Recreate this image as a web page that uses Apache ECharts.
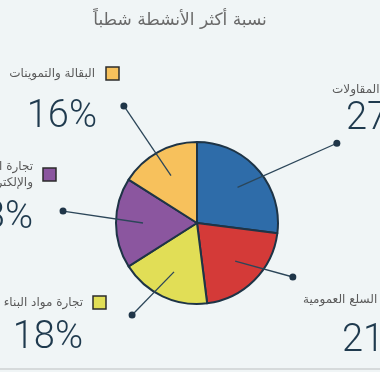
<!DOCTYPE html>
<html>
<head>
<meta charset="utf-8">
<script src="https://cdn.jsdelivr.net/npm/echarts@6/dist/echarts.min.js"></script>
<style>
html,body{margin:0;padding:0;background:#f0f5f6;}
#c{width:380px;height:372px;}
</style>
</head>
<body>
<div id="c"></div>
<script>
// ---- data ----
const titleText = 'نسبة أكثر الأنشطة شطباً';
const categories = ['المقاولات', 'السلع العمومية', 'تجارة مواد البناء', 'تجارة الأجهزة\nوالإلكترونيات', 'البقالة والتموينات'];
const values = [27, 21, 18, 18, 16];
const colors = ['#2e6ca9', '#d43a38', '#e1de56', '#8b569f', '#f7c15c'];

// ---- layout (annotation positions only) ----
const W = 380, H = 372;
const CX = 197, CY = 223, R = 81;
// leader-line end dots: [angle clockwise from 12 o'clock (deg), distance from pie centre]
const dotPolar = [[60.3, 161], [119.4, 110], [215.2, 112.6], [275.1, 134.5], [328, 138]];
// label blocks
const labelPos = [
  {side: 'right', nameX: 332, nameY: 90, pctX: 346, pctY: 119},
  {side: 'right', nameX: 303, nameY: 300, pctX: 342, pctY: 341},
  {side: 'left', sqX: 93, sqY: 296, nameX: 83, nameY: 303, pctX: 83, pctY: 338},
  {side: 'left', sqX: 43, sqY: 168, nameX: 33, nameY: 175, pctX: 33, pctY: 218},
  {side: 'left', sqX: 106, sqY: 67, nameX: 95, nameY: 74, pctX: 97, pctY: 117}
];
const arabicFont = '"DejaVu Sans", sans-serif';
const numFont = 'Roboto, "Open Sans", sans-serif';
const ink = '#1f3a4e';

const chart = echarts.init(document.getElementById('c'), null, {renderer: 'canvas'});

const graphics = [];
graphics.push({
  type: 'text', x: 180, y: 21,
  style: {text: titleText, fill: '#6a6a6a', font: '17px ' + arabicFont, textAlign: 'center', textVerticalAlign: 'middle'}
});
categories.forEach((name, i) => {
  const p = labelPos[i];
  const align = p.side === 'left' ? 'right' : 'left';
  if (p.side === 'left') {
    graphics.push({
      type: 'rect', shape: {x: p.sqX, y: p.sqY, width: 13, height: 13},
      style: {fill: colors[i], stroke: '#2b2b2b', lineWidth: 1.5}
    });
  }
  graphics.push({
    type: 'text', x: p.nameX, y: p.nameY,
    style: {text: name, fill: '#5a5a5a', font: '12px ' + arabicFont, textAlign: align, textVerticalAlign: 'middle', lineHeight: 16}
  });
  graphics.push({
    type: 'text', x: p.pctX, y: p.pctY,
    style: {text: values[i] + '%', fill: ink, font: '300 38px ' + numFont, textAlign: align, textVerticalAlign: 'middle'}
  });
});
graphics.push({type: 'rect', shape: {x: 0, y: 368, width: W, height: 2}, style: {fill: '#d6dadb'}});

const pieData = categories.map((n, i) => ({name: n, value: values[i], itemStyle: {color: colors[i]}}));

chart.setOption({
  backgroundColor: '#f0f5f6',
  animation: false,
  graphic: graphics,
  series: [
    {
      type: 'pie', center: [CX, CY], radius: R, startAngle: 90, clockwise: true,
      z: 2, silent: true,
      itemStyle: {borderColor: '#1e3446', borderWidth: 2},
      label: {show: false}, labelLine: {show: false},
      emphasis: {disabled: true},
      data: pieData
    },
    {
      // transparent carrier pie: its label lines are the leader lines starting inside each slice
      type: 'pie', center: [CX, CY], radius: 54, startAngle: 90, clockwise: true,
      z: 3, silent: true, avoidLabelOverlap: false,
      itemStyle: {color: 'rgba(0,0,0,0)', borderWidth: 0},
      emphasis: {disabled: true},
      label: {
        show: true, position: 'outside', formatter: () => ' ',
        backgroundColor: '#1f3548', width: 7, height: 7, borderRadius: 4, padding: 0,
        fontSize: 7, lineHeight: 7
      },
      labelLine: {show: true, length: 20, length2: 0, lineStyle: {color: '#2c4659', width: 1.3}},
      labelLayout: function (params) {
        const i = params.dataIndex;
        const a = dotPolar[i][0] * Math.PI / 180, d = dotPolar[i][1];
        const x = CX + d * Math.sin(a), y = CY - d * Math.cos(a);
        const start = (params.labelLinePoints && params.labelLinePoints[0]) || [CX, CY];
        return {x: x, y: y, align: 'center', verticalAlign: 'middle', labelLinePoints: [start, [x, y]]};
      },
      data: categories.map((n, i) => ({name: n, value: values[i]}))
    }
  ]
});
</script>
</body>
</html>
